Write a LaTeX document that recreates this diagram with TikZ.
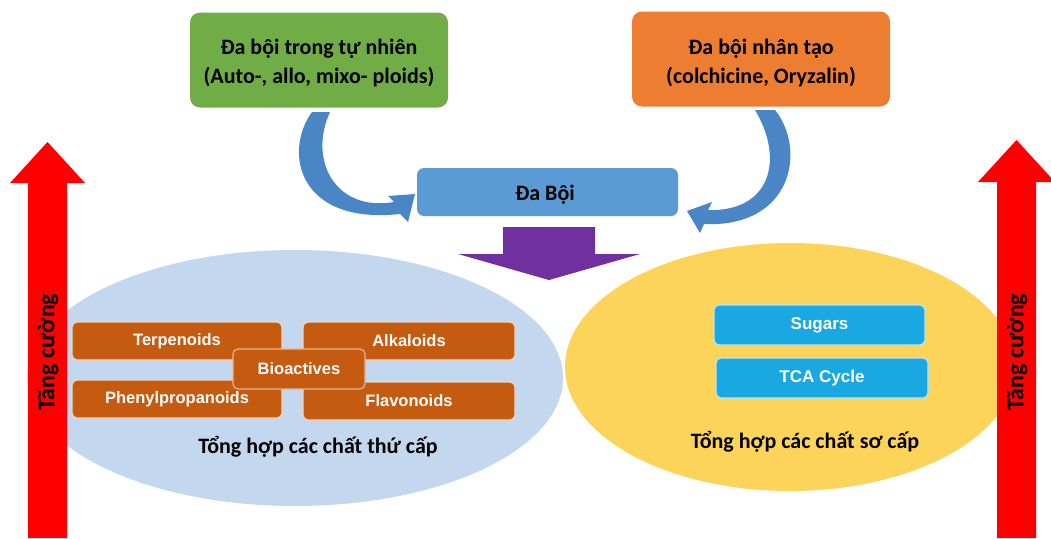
\documentclass[tikz,border=0pt]{standalone}
\usepackage{fontspec}
\setmainfont{Carlito}
\newfontfamily\arialfont{Liberation Sans}
\usetikzlibrary{shapes.geometric}
\definecolor{greenbox}{HTML}{70AD47}
\definecolor{orangebox}{HTML}{ED7D31}
\definecolor{bluebox}{HTML}{5B9BD5}
\definecolor{curvecol}{HTML}{4A86C5}
\definecolor{purplearr}{HTML}{7030A0}
\definecolor{lightblue}{HTML}{C3D8EE}
\definecolor{yellowell}{HTML}{FCD45A}
\definecolor{compound}{HTML}{C55A11}
\definecolor{sugarcol}{HTML}{1AA8E3}
\definecolor{redarr}{HTML}{FF0000}
\begin{document}
\begin{tikzpicture}[x=1pt,y=-1pt,
  topbox/.style={rounded corners=10pt, minimum width=258pt, minimum height=95pt, inner sep=0pt},
  toptext/.style={align=center, inner sep=0pt, font=\fontsize{22}{29}\selectfont\bfseries, text=black},
  compbox/.style={fill=compound, draw=white!75!compound, line width=1.2pt, rounded corners=5pt, inner sep=0pt,
    minimum height=38pt, text=white, font=\arialfont\fontsize{16.5}{18}\selectfont\bfseries},
  sugarbox/.style={fill=sugarcol, draw=white!70!sugarcol, line width=1.2pt, rounded corners=5pt, inner sep=0pt,
    minimum width=211pt, minimum height=40pt, text=white, font=\arialfont\fontsize{17}{19}\selectfont\bfseries},
  caption/.style={font=\fontsize{22}{26}\selectfont\bfseries, text=black, inner sep=0pt},
  vlabel/.style={font=\fontsize{24}{28}\selectfont\bfseries, text=black, rotate=90, inner sep=0pt},
  ell/.style={ellipse, inner sep=0pt}]
\useasboundingbox (0,0) rectangle (1051,538);
\fill[white] (0,0) rectangle (1051,538);

% ellipses
\node[ell, fill=lightblue, minimum width=536pt, minimum height=256pt] (sec) at (295,378) {};
\node[ell, fill=yellowell, minimum width=450pt, minimum height=248pt] (prim) at (790,367) {};

% top boxes
\node[topbox, fill=greenbox] (nat) at (319,60) {};
\node[toptext] (nattxt) at (319,63) {Đa bội trong tự nhiên\\(Auto-, allo, mixo- ploids)};
\node[topbox, fill=orangebox] (art) at (761,59) {};
\node[toptext] (arttxt) at (761,63) {Đa bội nhân tạo\\(colchicine, Oryzalin)};

% central box
\node[fill=bluebox, rounded corners=7pt, minimum width=261pt, minimum height=48pt, inner sep=0pt] (poly) at (547.5,192) {};
\node[inner sep=0pt, font=\fontsize{22}{26}\selectfont\bfseries, text=black] (polytxt) at (545,195) {Đa Bội};

% curved arrows
\fill[curvecol] (312,112) .. controls (283,152) and (298,225) .. (400,214) -- (408,222) -- (415,194) -- (388,196) -- (394,202)
  .. controls (335,212) and (308,160) .. (330,112) -- cycle;
\fill[curvecol] (775,110) .. controls (807,150) and (792,228) .. (704,224) -- (700,233) -- (687,211) -- (712,202) -- (708,210)
  .. controls (770,212) and (785,160) .. (755,110) -- cycle;

% purple arrow
\coordinate (ptip) at (549,280);
\fill[purplearr] (503,227) -- (595,227) -- (595,254) -- (640,254) -- (ptip) -- (458,254) -- (503,254) -- cycle;

% secondary compounds
\node[compbox, minimum width=210pt] (terp) at (177,341) {Terpenoids};
\node[compbox, minimum width=212pt] (alk) at (409,341) {Alkaloids};
\node[compbox, minimum width=210pt] (phen) at (177,399) {Phenylpropanoids};
\node[compbox, minimum width=212pt] (flav) at (409,401) {Flavonoids};
\node[compbox, minimum width=132pt, minimum height=40pt, draw=white!55!compound] (bio) at (299,369) {Bioactives};
\node[caption] (seclab) at (318,447) {Tổng hợp các chất thứ cấp};

% primary
\node[sugarbox] (sug) at (819.5,325) {Sugars};
\node[sugarbox, minimum width=212pt] (tca) at (822,378) {TCA Cycle};
\node[caption] (primlab) at (805,442) {Tổng hợp các chất sơ cấp};

% red arrows
\fill[redarr] (28,538) -- (28,183) -- (10,183) -- (47.5,142) -- (85,183) -- (67,183) -- (67,538) -- cycle;
\fill[redarr] (997,538) -- (997,182) -- (978,182) -- (1016.5,140) -- (1055,182) -- (1036,182) -- (1036,538) -- cycle;
\node[vlabel] (incL) at (48,352) {Tăng cường};
\node[vlabel] (incR) at (1017,352) {Tăng cường};
\end{tikzpicture}
\end{document}
